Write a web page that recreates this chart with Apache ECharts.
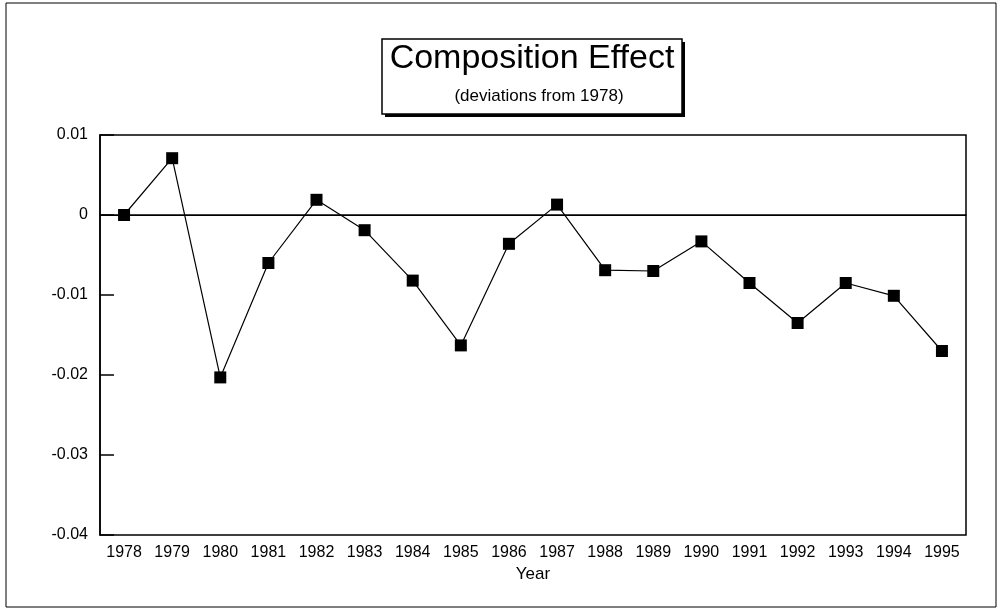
<!DOCTYPE html>
<html>
<head>
<meta charset="utf-8">
<script src="https://cdn.jsdelivr.net/npm/echarts@6/dist/echarts.min.js"></script>
<style>
  html, body { margin: 0; padding: 0; background: #fff; }
  #chart { width: 1000px; height: 611px; }
</style>
</head>
<body>
<div id="chart"></div>
<script>
const years = ['1978', '1979', '1980', '1981', '1982', '1983', '1984', '1985', '1986',
  '1987', '1988', '1989', '1990', '1991', '1992', '1993', '1994', '1995']
const composition = [0, 0.0071, -0.0203, -0.0060, 0.0019, -0.0019, -0.0082, -0.0163, -0.0036,
  0.0013, -0.0069, -0.0070, -0.0033, -0.0085, -0.0135, -0.0085, -0.0101, -0.0170]
const titleText = 'Composition Effect'
const subtitleText = '(deviations from 1978)'

const font = '"Liberation Sans", Arial, sans-serif'
const chart = echarts.init(document.getElementById('chart'))

chart.setOption({
  animation: false,
  backgroundColor: '#fff',
  graphic: [
    // outer frame
    {
      type: 'rect',
      shape: { x: 6, y: 3, width: 990, height: 604 },
      style: { fill: 'none', stroke: '#000', lineWidth: 1 },
      silent: true,
    },
    // title box: shadow first, then the box
    {
      type: 'rect',
      shape: { x: 385, y: 42, width: 300, height: 75 },
      style: { fill: '#000' },
      silent: true,
    },
    {
      type: 'rect',
      shape: { x: 382, y: 39, width: 300, height: 75 },
      style: { fill: '#fff', stroke: '#000', lineWidth: 1.5 },
      silent: true,
    },
    {
      type: 'text',
      x: 532,
      y: 59,
      style: {
        text: titleText,
        font: '34px ' + font,
        fill: '#000',
        align: 'center',
        verticalAlign: 'middle',
      },
    },
    {
      type: 'text',
      x: 539,
      y: 96,
      style: {
        text: subtitleText,
        font: '17px ' + font,
        fill: '#000',
        align: 'center',
        verticalAlign: 'middle',
      },
    },
  ],
  grid: {
    left: 100,
    right: 34,
    top: 135,
    bottom: 76,
    show: true,
    borderColor: '#000',
    borderWidth: 1.5,
  },
  xAxis: {
    type: 'category',
    data: years,
    name: 'Year',
    nameLocation: 'middle',
    nameGap: 29,
    nameTextStyle: { color: '#000', fontSize: 17, fontFamily: font },
    axisLine: { lineStyle: { color: '#000', width: 1.5 } },
    axisTick: { show: false },
    axisLabel: { color: '#000', fontSize: 16, fontFamily: font, margin: 10 },
    splitLine: { show: false },
  },
  yAxis: {
    type: 'value',
    min: -0.04,
    max: 0.01,
    interval: 0.01,
    axisLine: { show: true, lineStyle: { color: '#000', width: 1.5 } },
    axisTick: { show: true, inside: true, length: 14, lineStyle: { color: '#000', width: 1.5 } },
    axisLabel: {
      color: '#000',
      fontSize: 16,
      fontFamily: font,
      margin: 12,
      formatter: (v) => (Math.abs(v) < 1e-9 ? '0' : v.toFixed(2)),
    },
    splitLine: { show: false },
  },
  series: [
    {
      type: 'line',
      data: composition,
      symbol: 'rect',
      symbolSize: 12,
      showAllSymbol: true,
      itemStyle: { color: '#000' },
      lineStyle: { color: '#000', width: 1.2 },
      markLine: {
        silent: true,
        symbol: 'none',
        label: { show: false },
        lineStyle: { color: '#000', width: 1.2, type: 'solid' },
        data: [{ yAxis: 0 }],
      },
      z: 3,
    },
  ],
})
</script>
</body>
</html>
